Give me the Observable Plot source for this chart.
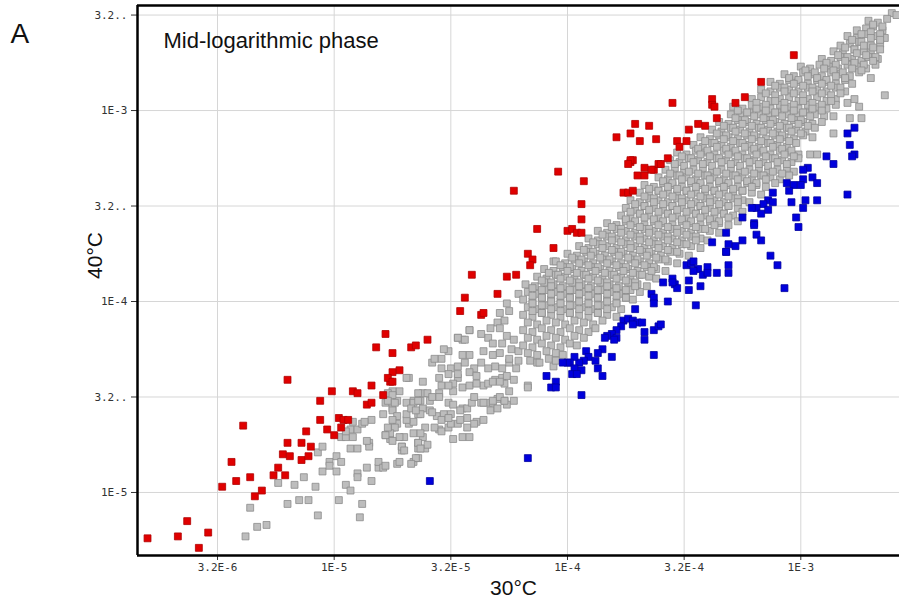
<!DOCTYPE html>
<html><head><meta charset="utf-8">
<script src="https://cdn.jsdelivr.net/npm/d3@7"></script>
<script src="https://cdn.jsdelivr.net/npm/@observablehq/plot@0.6"></script>
<style>
body{margin:0;background:#fff;}
#chart svg{display:block;}
</style></head><body><div id="chart"></div>
<script>
// Values are log10 of the expression level: [log10(30°C), log10(40°C)]
const xTickExp = [-5.5, -5, -4.5, -4, -3.5, -3];
const xTickLabels = ["3.2E-6", "1E-5", "3.2E-5", "1E-4", "3.2E-4", "1E-3"];
const yTickExp = [-5, -4.5, -4, -3.5, -3, -2.5];
const yTickLabels = ["1E-5", "3.2..", "1E-4", "3.2..", "1E-3", "3.2.."];
const xDomainExp = [-5.843, -2.577];
const yDomainExp = [-5.33, -2.45];

const grayLower = [
[-5.38,-5.23],[-5.33,-5.18],[-5.29,-5.17],[-5.36,-5.08],[-5.24,-4.95],[-5.20,-5.06],[-5.17,-4.96],[-5.15,-5.04],[-5.11,-5.04],[-5.13,-4.92],
[-5.08,-4.97],[-5.07,-5.12],[-5.05,-4.89],[-5.07,-4.79],[-5.05,-4.76],[-5.02,-4.84],[-5.02,-4.86],[-4.99,-4.81],[-4.97,-4.84],[-4.99,-4.89],
[-4.98,-5.04],[-4.95,-4.96],[-4.93,-4.99],[-4.93,-4.77],[-4.90,-4.77],[-4.90,-4.90],[-4.90,-4.92],[-4.88,-5.06],[-4.89,-5.13],[-4.86,-4.87],
[-4.84,-4.94],[-4.81,-4.87],[-4.81,-4.84],[-4.79,-4.87],[-4.85,-4.74],[-4.85,-4.76],[-4.78,-4.70],[-4.76,-4.72],[-4.75,-4.66],[-4.73,-4.85],
[-4.71,-4.76],[-4.71,-4.78],[-4.70,-4.71],[-4.66,-4.84],[-4.64,-4.82],[-4.64,-4.74],[-4.64,-4.77],[-4.61,-4.77],[-4.68,-4.64],[-4.66,-4.63],
[-4.61,-4.66],[-4.93,-4.67],[-4.90,-4.67],[-4.88,-4.64],[-4.92,-4.63],[-4.97,-4.71],[-4.95,-4.71],[-4.55,-4.67],[-4.79,-4.59],[-4.78,-4.53],
[-4.75,-4.56],[-4.73,-4.52],[-4.72,-4.47],[-4.75,-4.47],[-4.77,-4.48],[-4.69,-4.53],[-4.66,-4.52],[-4.63,-4.52],[-4.62,-4.48],[-4.64,-4.48],
[-4.69,-4.62],[-4.69,-4.59],[-4.64,-4.59],[-4.73,-4.64],[-4.66,-4.69],[-4.62,-4.71],[-4.60,-4.75],[-4.84,-4.62],[-4.87,-4.63],[-4.95,-4.68],
[-4.86,-4.73],[-4.92,-4.71]
];
const grayMiddle = [
[-4.58,-4.32],[-4.50,-4.35],[-4.47,-4.34],[-4.44,-4.32],[-4.40,-4.35],[-4.37,-4.32],[-4.34,-4.35],[-4.31,-4.34],[-4.28,-4.35],[-4.25,-4.32],
[-4.22,-4.35],[-4.13,-4.32],[-4.06,-4.34],[-4.68,-4.40],[-4.62,-4.42],[-4.55,-4.40],[-4.51,-4.38],[-4.47,-4.40],[-4.49,-4.43],[-4.54,-4.44],
[-4.55,-4.48],[-4.49,-4.47],[-4.42,-4.37],[-4.39,-4.39],[-4.36,-4.44],[-4.34,-4.43],[-4.31,-4.41],[-4.28,-4.40],[-4.26,-4.39],[-4.27,-4.43],
[-4.25,-4.47],[-4.17,-4.44],[-4.75,-4.49],[-4.77,-4.52],[-4.74,-4.53],[-4.75,-4.57],[-4.73,-4.60],[-4.75,-4.62],[-4.74,-4.66],[-4.76,-4.69],
[-4.78,-4.70],[-4.77,-4.66],[-4.72,-4.71],[-4.71,-4.76],[-4.70,-4.78],[-4.75,-4.73],[-4.66,-4.53],[-4.64,-4.52],[-4.60,-4.48],[-4.62,-4.56],
[-4.59,-4.57],[-4.56,-4.60],[-4.53,-4.59],[-4.50,-4.59],[-4.54,-4.62],[-4.57,-4.66],[-4.54,-4.68],[-4.51,-4.66],[-4.50,-4.64],[-4.47,-4.64],
[-4.51,-4.53],[-4.59,-4.52],[-4.63,-4.59],[-4.63,-4.69],[-4.64,-4.74],[-4.63,-4.77],[-4.45,-4.56],[-4.43,-4.56],[-4.41,-4.53],[-4.40,-4.50],
[-4.37,-4.53],[-4.34,-4.53],[-4.32,-4.53],[-4.30,-4.51],[-4.27,-4.52],[-4.43,-4.61],[-4.39,-4.63],[-4.49,-4.72],[-4.45,-4.71],[-4.42,-4.71],
[-4.65,-4.82],[-4.72,-4.84],[-4.78,-4.86],[-4.67,-4.85],
[-4.21,-3.96],[-4.26,-4.01],[-4.25,-4.05],[-4.29,-4.06],[-4.27,-4.10],[-4.30,-4.11],[-4.33,-4.14],[-4.29,-4.14],[-4.34,-4.19],[-4.37,-4.17],
[-4.42,-4.15],[-4.47,-4.19],[-4.45,-4.20],[-4.26,-4.18],[-4.23,-4.20],[-4.24,-4.25],[-4.28,-4.22],[-4.32,-4.22],[-4.29,-4.27],[-4.25,-4.30],
[-4.21,-4.26],[-4.21,-4.31],[-4.32,-4.28],[-4.36,-4.26],[-4.42,-4.28],[-4.45,-4.28],[-4.51,-4.26],[-4.54,-4.30],[-4.57,-4.30],[-4.54,-4.35],
[-4.47,-4.38],[-4.51,-4.44],[-4.45,-4.45],[-4.42,-4.44],[-4.39,-4.43],[-4.32,-4.42],[-4.29,-4.42],[-4.23,-4.41],[-4.29,-4.50],[-4.32,-4.52],
[-4.36,-4.53],[-4.46,-4.57],[-4.49,-4.54],[-4.55,-4.50],[-4.58,-4.50],[-4.67,-4.56],[-4.65,-4.57],[-4.58,-4.58],[-4.51,-4.61],[-4.46,-4.62],
[-4.43,-4.66],[-4.40,-4.64],[-4.36,-4.62],[-4.33,-4.57],[-4.30,-4.56],[-4.26,-4.54],[-4.23,-4.52],[-4.69,-4.40],[-4.47,-4.19],[-4.44,-4.20],
[-4.53,-4.25],[-4.42,-4.15],[-4.06,-3.79],[-4.17,-4.45],[-4.27,-4.52]
];
const grayDense = [
[-2.61,-2.49],[-2.59,-2.50],
[-2.71,-2.53],[-2.67,-2.54],[-2.63,-2.52],
[-2.76,-2.58],[-2.72,-2.57],[-2.69,-2.56],[-2.65,-2.58],
[-2.80,-2.61],[-2.76,-2.62],[-2.72,-2.60],[-2.68,-2.61],[-2.64,-2.62],
[-2.83,-2.66],[-2.79,-2.65],[-2.75,-2.64],[-2.70,-2.66],[-2.66,-2.65],
[-2.86,-2.69],[-2.82,-2.70],[-2.77,-2.68],[-2.73,-2.69],[-2.70,-2.70],[-2.66,-2.68],
[-2.91,-2.73],[-2.87,-2.74],[-2.83,-2.72],[-2.78,-2.73],[-2.74,-2.74],[-2.71,-2.72],[-2.67,-2.73],
[-3.00,-2.77],[-2.96,-2.78],[-2.92,-2.76],[-2.88,-2.77],[-2.84,-2.78],[-2.80,-2.76],[-2.76,-2.77],[-2.72,-2.78],[-2.68,-2.76],
[-3.07,-2.81],[-3.03,-2.82],[-2.99,-2.80],[-2.95,-2.81],[-2.91,-2.82],[-2.87,-2.80],[-2.83,-2.81],[-2.79,-2.82],[-2.75,-2.80],[-2.70,-2.83],
[-3.13,-2.85],[-3.09,-2.86],[-3.05,-2.84],[-3.01,-2.85],[-2.97,-2.86],[-2.93,-2.84],[-2.89,-2.85],[-2.85,-2.86],[-2.81,-2.84],[-2.78,-2.86],
[-3.17,-2.89],[-3.13,-2.90],[-3.09,-2.88],[-3.05,-2.89],[-3.01,-2.90],[-2.97,-2.88],[-2.93,-2.89],[-2.89,-2.90],[-2.85,-2.88],[-2.81,-2.90],
[-3.21,-2.94],[-3.17,-2.93],[-3.13,-2.95],[-3.09,-2.94],[-3.05,-2.93],[-3.01,-2.95],[-2.97,-2.94],[-2.93,-2.93],[-2.89,-2.95],[-2.85,-2.94],[-2.80,-2.96],[-2.77,-2.94],[-2.64,-2.92],
[-3.29,-2.98],[-3.25,-2.99],[-3.21,-2.97],[-3.17,-2.98],[-3.13,-2.99],[-3.09,-2.97],[-3.05,-2.98],[-3.01,-2.99],[-2.97,-2.97],[-2.93,-2.98],[-2.89,-2.99],[-2.85,-2.97],[-2.75,-2.98],
[-3.30,-3.02],[-3.26,-3.03],[-3.22,-3.01],[-3.18,-3.02],[-3.14,-3.03],[-3.10,-3.01],[-3.06,-3.02],[-3.02,-3.03],[-2.98,-3.01],[-2.94,-3.02],[-2.90,-3.03],[-2.86,-3.03],[-2.79,-3.04],[-2.74,-3.04],
[-3.35,-3.06],[-3.31,-3.07],[-3.27,-3.05],[-3.23,-3.06],[-3.19,-3.07],[-3.15,-3.05],[-3.11,-3.06],[-3.07,-3.07],[-3.03,-3.05],[-2.99,-3.06],[-2.95,-3.07],[-2.91,-3.06],
[-3.38,-3.10],[-3.34,-3.11],[-3.30,-3.09],[-3.26,-3.10],[-3.22,-3.11],[-3.18,-3.09],[-3.14,-3.10],[-3.10,-3.11],[-3.06,-3.09],[-3.02,-3.10],[-2.98,-3.11],[-2.94,-3.09],[-2.86,-3.12],
[-3.43,-3.14],[-3.39,-3.15],[-3.35,-3.13],[-3.31,-3.14],[-3.27,-3.15],[-3.23,-3.13],[-3.19,-3.14],[-3.15,-3.15],[-3.11,-3.13],[-3.07,-3.14],[-3.03,-3.15],[-2.99,-3.13],[-2.95,-3.14],
[-3.46,-3.18],[-3.42,-3.19],[-3.38,-3.17],[-3.34,-3.18],[-3.30,-3.19],[-3.26,-3.17],[-3.22,-3.18],[-3.18,-3.19],[-3.14,-3.17],[-3.10,-3.18],[-3.06,-3.19],[-3.02,-3.17],
[-3.53,-3.22],[-3.49,-3.23],[-3.45,-3.21],[-3.41,-3.22],[-3.37,-3.23],[-3.33,-3.21],[-3.29,-3.22],[-3.25,-3.23],[-3.21,-3.21],[-3.17,-3.22],[-3.13,-3.23],[-3.09,-3.21],[-3.05,-3.22],[-3.01,-3.23],[-2.96,-3.23],[-2.93,-3.23],
[-3.56,-3.26],[-3.52,-3.27],[-3.48,-3.25],[-3.44,-3.26],[-3.40,-3.27],[-3.36,-3.25],[-3.32,-3.26],[-3.28,-3.27],[-3.24,-3.25],[-3.20,-3.26],[-3.16,-3.27],[-3.12,-3.25],[-3.08,-3.26],[-3.04,-3.27],[-3.01,-3.25],
[-3.58,-3.31],[-3.54,-3.30],[-3.50,-3.32],[-3.46,-3.31],[-3.42,-3.30],[-3.38,-3.32],[-3.34,-3.31],[-3.30,-3.30],[-3.26,-3.32],[-3.22,-3.31],[-3.18,-3.30],[-3.14,-3.32],[-3.10,-3.31],[-3.06,-3.30],[-3.03,-3.32],
[-3.61,-3.35],[-3.57,-3.36],[-3.53,-3.34],[-3.49,-3.35],[-3.45,-3.36],[-3.41,-3.34],[-3.37,-3.35],[-3.33,-3.36],[-3.29,-3.34],[-3.25,-3.35],[-3.21,-3.36],[-3.17,-3.34],[-3.13,-3.35],[-3.09,-3.36],[-3.05,-3.34],
[-3.67,-3.39],[-3.63,-3.40],[-3.59,-3.38],[-3.55,-3.39],[-3.51,-3.40],[-3.47,-3.38],[-3.43,-3.39],[-3.39,-3.40],[-3.35,-3.38],[-3.31,-3.39],[-3.27,-3.40],[-3.23,-3.38],[-3.19,-3.39],[-3.15,-3.40],[-3.11,-3.38],
[-3.69,-3.43],[-3.65,-3.44],[-3.61,-3.42],[-3.57,-3.43],[-3.53,-3.44],[-3.49,-3.42],[-3.45,-3.43],[-3.41,-3.44],[-3.37,-3.42],[-3.33,-3.43],[-3.29,-3.44],[-3.25,-3.42],[-3.21,-3.43],[-3.17,-3.44],
[-3.73,-3.47],[-3.69,-3.48],[-3.65,-3.46],[-3.61,-3.47],[-3.57,-3.48],[-3.53,-3.46],[-3.49,-3.47],[-3.45,-3.48],[-3.41,-3.46],[-3.37,-3.47],[-3.33,-3.48],[-3.29,-3.46],[-3.25,-3.47],[-3.22,-3.48],
[-3.75,-3.51],[-3.71,-3.52],[-3.67,-3.50],[-3.63,-3.51],[-3.59,-3.52],[-3.55,-3.50],[-3.51,-3.51],[-3.47,-3.52],[-3.43,-3.50],[-3.39,-3.51],[-3.35,-3.52],[-3.31,-3.50],[-3.27,-3.51],[-3.25,-3.53],
[-3.77,-3.55],[-3.73,-3.56],[-3.69,-3.54],[-3.65,-3.55],[-3.61,-3.56],[-3.57,-3.54],[-3.53,-3.55],[-3.49,-3.56],[-3.45,-3.54],[-3.41,-3.55],[-3.37,-3.56],[-3.33,-3.54],[-3.29,-3.55],
[-3.83,-3.59],[-3.79,-3.60],[-3.75,-3.58],[-3.71,-3.59],[-3.67,-3.60],[-3.63,-3.58],[-3.59,-3.59],[-3.55,-3.60],[-3.51,-3.58],[-3.47,-3.59],[-3.43,-3.60],[-3.39,-3.58],[-3.35,-3.59],[-3.31,-3.60],[-3.27,-3.58],
[-3.87,-3.63],[-3.83,-3.64],[-3.79,-3.62],[-3.75,-3.63],[-3.71,-3.64],[-3.67,-3.62],[-3.63,-3.63],[-3.59,-3.64],[-3.55,-3.62],[-3.51,-3.63],[-3.47,-3.64],[-3.43,-3.62],[-3.39,-3.63],[-3.35,-3.64],
[-3.91,-3.67],[-3.87,-3.68],[-3.83,-3.66],[-3.79,-3.67],[-3.75,-3.68],[-3.71,-3.66],[-3.67,-3.67],[-3.63,-3.68],[-3.59,-3.66],[-3.55,-3.67],[-3.51,-3.68],[-3.47,-3.66],[-3.43,-3.67],[-3.40,-3.68],
[-3.95,-3.71],[-3.91,-3.72],[-3.87,-3.70],[-3.83,-3.71],[-3.79,-3.72],[-3.75,-3.70],[-3.71,-3.71],[-3.67,-3.72],[-3.63,-3.70],[-3.59,-3.71],[-3.55,-3.72],[-3.51,-3.70],[-3.47,-3.71],[-3.43,-3.72],
[-4.00,-3.75],[-3.96,-3.76],[-3.92,-3.74],[-3.88,-3.75],[-3.84,-3.76],[-3.80,-3.74],[-3.76,-3.75],[-3.72,-3.76],[-3.68,-3.74],[-3.64,-3.75],[-3.60,-3.76],[-3.56,-3.74],[-3.52,-3.75],[-3.48,-3.76],
[-4.05,-3.79],[-4.01,-3.80],[-3.97,-3.78],[-3.93,-3.79],[-3.89,-3.80],[-3.85,-3.78],[-3.81,-3.79],[-3.77,-3.80],[-3.73,-3.78],[-3.69,-3.79],[-3.65,-3.80],[-3.61,-3.78],[-3.57,-3.79],[-3.53,-3.80],
[-4.10,-3.83],[-4.06,-3.84],[-4.02,-3.82],[-3.98,-3.83],[-3.94,-3.84],[-3.90,-3.82],[-3.86,-3.83],[-3.82,-3.84],[-3.78,-3.82],[-3.74,-3.83],[-3.70,-3.84],[-3.66,-3.82],[-3.62,-3.83],[-3.58,-3.84],
[-4.13,-3.87],[-4.09,-3.88],[-4.05,-3.86],[-4.01,-3.87],[-3.97,-3.88],[-3.93,-3.86],[-3.89,-3.87],[-3.85,-3.88],[-3.81,-3.86],[-3.77,-3.87],[-3.73,-3.88],[-3.69,-3.86],[-3.65,-3.87],[-3.62,-3.88],
[-4.18,-3.91],[-4.14,-3.92],[-4.10,-3.90],[-4.06,-3.91],[-4.02,-3.92],[-3.98,-3.90],[-3.94,-3.91],[-3.90,-3.92],[-3.86,-3.90],[-3.82,-3.91],[-3.78,-3.92],[-3.74,-3.90],[-3.70,-3.91],[-3.66,-3.92],
[-4.17,-3.95],[-4.13,-3.96],[-4.09,-3.94],[-4.05,-3.95],[-4.01,-3.96],[-3.97,-3.94],[-3.93,-3.95],[-3.89,-3.96],[-3.85,-3.94],[-3.81,-3.95],[-3.77,-3.96],[-3.73,-3.94],[-3.69,-3.95],
[-4.19,-3.99],[-4.15,-4.00],[-4.11,-3.98],[-4.07,-3.99],[-4.03,-4.00],[-3.99,-3.98],[-3.95,-3.99],[-3.91,-4.00],[-3.87,-3.98],[-3.83,-3.99],[-3.79,-4.00],[-3.75,-3.98],[-3.72,-3.99],
[-4.17,-4.03],[-4.13,-4.04],[-4.09,-4.02],[-4.05,-4.03],[-4.01,-4.04],[-3.97,-4.02],[-3.93,-4.03],[-3.89,-4.04],[-3.85,-4.02],[-3.81,-4.03],[-3.77,-4.04],
[-4.19,-4.07],[-4.15,-4.08],[-4.11,-4.06],[-4.07,-4.07],[-4.03,-4.08],[-3.99,-4.06],[-3.95,-4.07],[-3.91,-4.08],[-3.87,-4.06],[-3.83,-4.07],[-3.79,-4.08],
[-4.17,-4.11],[-4.13,-4.12],[-4.09,-4.10],[-4.05,-4.11],[-4.01,-4.12],[-3.97,-4.10],[-3.93,-4.11],[-3.89,-4.12],[-3.85,-4.10],
[-4.19,-4.15],[-4.15,-4.16],[-4.11,-4.14],[-4.07,-4.15],[-4.03,-4.16],[-3.99,-4.14],[-3.95,-4.15],[-3.91,-4.16],[-3.88,-4.14],
[-4.17,-4.19],[-4.13,-4.20],[-4.09,-4.18],[-4.05,-4.19],[-4.01,-4.20],[-3.97,-4.18],[-3.93,-4.19],
[-4.19,-4.23],[-4.15,-4.24],[-4.11,-4.22],[-4.07,-4.23],[-4.03,-4.24],[-3.99,-4.22],[-3.96,-4.23],
[-4.17,-4.27],[-4.13,-4.28],[-4.09,-4.26],[-4.05,-4.27],[-4.02,-4.28],
[-4.16,-4.31],[-4.12,-4.32],[-4.08,-4.30],[-4.05,-4.31]
];
// the solid core of the cloud, read between the rows above
const grayCore = [
[-2.69,-2.55],[-2.65,-2.56],
[-2.74,-2.60],[-2.70,-2.59],[-2.66,-2.60],
[-2.78,-2.63],[-2.74,-2.64],[-2.70,-2.62],[-2.66,-2.63],
[-2.81,-2.67],[-2.77,-2.68],[-2.73,-2.66],[-2.69,-2.67],
[-2.84,-2.71],[-2.80,-2.72],[-2.76,-2.70],[-2.72,-2.71],[-2.68,-2.72],
[-2.89,-2.75],[-2.85,-2.76],[-2.81,-2.74],[-2.77,-2.75],[-2.73,-2.76],[-2.69,-2.74],
[-2.98,-2.79],[-2.94,-2.80],[-2.90,-2.78],[-2.86,-2.79],[-2.82,-2.80],[-2.78,-2.78],[-2.74,-2.79],
[-3.05,-2.83],[-3.01,-2.84],[-2.97,-2.82],[-2.93,-2.83],[-2.89,-2.84],[-2.85,-2.82],[-2.81,-2.83],
[-3.11,-2.87],[-3.07,-2.88],[-3.03,-2.86],[-2.99,-2.87],[-2.95,-2.88],[-2.91,-2.86],[-2.87,-2.87],[-2.83,-2.88],
[-3.15,-2.91],[-3.11,-2.92],[-3.07,-2.90],[-3.03,-2.91],[-2.99,-2.92],[-2.95,-2.90],[-2.91,-2.91],[-2.87,-2.92],[-2.83,-2.91],
[-3.19,-2.96],[-3.15,-2.97],[-3.11,-2.95],[-3.07,-2.96],[-3.03,-2.97],[-2.99,-2.95],[-2.95,-2.96],[-2.91,-2.97],[-2.87,-2.95],
[-3.27,-3.00],[-3.23,-3.01],[-3.19,-2.99],[-3.15,-3.00],[-3.11,-3.01],[-3.07,-2.99],[-3.03,-3.00],[-2.99,-3.01],[-2.95,-2.99],[-2.91,-3.00],
[-3.28,-3.04],[-3.24,-3.05],[-3.20,-3.03],[-3.16,-3.04],[-3.12,-3.05],[-3.08,-3.03],[-3.04,-3.04],[-3.00,-3.05],[-2.96,-3.03],
[-3.33,-3.08],[-3.29,-3.09],[-3.25,-3.07],[-3.21,-3.08],[-3.17,-3.09],[-3.13,-3.07],[-3.09,-3.08],[-3.05,-3.09],[-3.01,-3.07],[-2.97,-3.08],
[-3.36,-3.12],[-3.32,-3.13],[-3.28,-3.11],[-3.24,-3.12],[-3.20,-3.13],[-3.16,-3.11],[-3.12,-3.12],[-3.08,-3.13],[-3.04,-3.11],[-3.00,-3.12],
[-3.41,-3.16],[-3.37,-3.17],[-3.33,-3.15],[-3.29,-3.16],[-3.25,-3.17],[-3.21,-3.15],[-3.17,-3.16],[-3.13,-3.17],[-3.09,-3.15],[-3.05,-3.16],
[-3.44,-3.20],[-3.40,-3.21],[-3.36,-3.19],[-3.32,-3.20],[-3.28,-3.21],[-3.24,-3.19],[-3.20,-3.20],[-3.16,-3.21],[-3.12,-3.19],[-3.08,-3.20],[-3.04,-3.21],
[-3.51,-3.24],[-3.47,-3.25],[-3.43,-3.23],[-3.39,-3.24],[-3.35,-3.25],[-3.31,-3.23],[-3.27,-3.24],[-3.23,-3.25],[-3.19,-3.23],[-3.15,-3.24],[-3.11,-3.25],[-3.07,-3.23],[-3.03,-3.24],
[-3.54,-3.28],[-3.50,-3.29],[-3.46,-3.27],[-3.42,-3.28],[-3.38,-3.29],[-3.34,-3.27],[-3.30,-3.28],[-3.26,-3.29],[-3.22,-3.27],[-3.18,-3.28],[-3.14,-3.29],[-3.10,-3.27],[-3.06,-3.28],
[-3.56,-3.33],[-3.52,-3.34],[-3.48,-3.32],[-3.44,-3.33],[-3.40,-3.34],[-3.36,-3.32],[-3.32,-3.33],[-3.28,-3.34],[-3.24,-3.32],[-3.20,-3.33],[-3.16,-3.34],[-3.12,-3.32],[-3.08,-3.33],
[-3.59,-3.37],[-3.55,-3.38],[-3.51,-3.36],[-3.47,-3.37],[-3.43,-3.38],[-3.39,-3.36],[-3.35,-3.37],[-3.31,-3.38],[-3.27,-3.36],[-3.23,-3.37],[-3.19,-3.38],[-3.15,-3.36],
[-3.65,-3.41],[-3.61,-3.42],[-3.57,-3.40],[-3.53,-3.41],[-3.49,-3.42],[-3.45,-3.40],[-3.41,-3.41],[-3.37,-3.42],[-3.33,-3.40],[-3.29,-3.41],[-3.25,-3.42],[-3.21,-3.40],
[-3.67,-3.45],[-3.63,-3.46],[-3.59,-3.44],[-3.55,-3.45],[-3.51,-3.46],[-3.47,-3.44],[-3.43,-3.45],[-3.39,-3.46],[-3.35,-3.44],[-3.31,-3.45],[-3.27,-3.46],
[-3.71,-3.49],[-3.67,-3.50],[-3.63,-3.48],[-3.59,-3.49],[-3.55,-3.50],[-3.51,-3.48],[-3.47,-3.49],[-3.43,-3.50],[-3.39,-3.48],[-3.35,-3.49],[-3.31,-3.50],[-3.27,-3.48],
[-3.73,-3.53],[-3.69,-3.54],[-3.65,-3.52],[-3.61,-3.53],[-3.57,-3.54],[-3.53,-3.52],[-3.49,-3.53],[-3.45,-3.54],[-3.41,-3.52],[-3.37,-3.53],[-3.33,-3.54],
[-3.75,-3.57],[-3.71,-3.58],[-3.67,-3.56],[-3.63,-3.57],[-3.59,-3.58],[-3.55,-3.56],[-3.51,-3.57],[-3.47,-3.58],[-3.43,-3.56],[-3.39,-3.57],[-3.35,-3.58],[-3.31,-3.56],
[-3.81,-3.61],[-3.77,-3.62],[-3.73,-3.60],[-3.69,-3.61],[-3.65,-3.62],[-3.61,-3.60],[-3.57,-3.61],[-3.53,-3.62],[-3.49,-3.60],[-3.45,-3.61],[-3.41,-3.62],[-3.37,-3.60],
[-3.85,-3.65],[-3.81,-3.66],[-3.77,-3.64],[-3.73,-3.65],[-3.69,-3.66],[-3.65,-3.64],[-3.61,-3.65],[-3.57,-3.66],[-3.53,-3.64],[-3.49,-3.65],[-3.45,-3.66],
[-3.89,-3.69],[-3.85,-3.70],[-3.81,-3.68],[-3.77,-3.69],[-3.73,-3.70],[-3.69,-3.68],[-3.65,-3.69],[-3.61,-3.70],[-3.57,-3.68],[-3.53,-3.69],[-3.49,-3.70],[-3.45,-3.68],
[-3.93,-3.73],[-3.89,-3.74],[-3.85,-3.72],[-3.81,-3.73],[-3.77,-3.74],[-3.73,-3.72],[-3.69,-3.73],[-3.65,-3.74],[-3.61,-3.72],[-3.57,-3.73],[-3.53,-3.74],
[-3.98,-3.77],[-3.94,-3.78],[-3.90,-3.76],[-3.86,-3.77],[-3.82,-3.78],[-3.78,-3.76],[-3.74,-3.77],[-3.70,-3.78],[-3.66,-3.76],[-3.62,-3.77],[-3.58,-3.78],
[-4.03,-3.81],[-3.99,-3.82],[-3.95,-3.80],[-3.91,-3.81],[-3.87,-3.82],[-3.83,-3.80],[-3.79,-3.81],[-3.75,-3.82],[-3.71,-3.80],[-3.67,-3.81],[-3.63,-3.82],
[-4.08,-3.85],[-4.04,-3.86],[-4.00,-3.84],[-3.96,-3.85],[-3.92,-3.86],[-3.88,-3.84],[-3.84,-3.85],[-3.80,-3.86],[-3.76,-3.84],[-3.72,-3.85],[-3.68,-3.86],[-3.64,-3.84],
[-4.11,-3.89],[-4.07,-3.90],[-4.03,-3.88],[-3.99,-3.89],[-3.95,-3.90],[-3.91,-3.88],[-3.87,-3.89],[-3.83,-3.90],[-3.79,-3.88],[-3.75,-3.89],[-3.71,-3.90],
[-4.15,-3.93],[-4.11,-3.94],[-4.07,-3.92],[-4.03,-3.93],[-3.99,-3.94],[-3.95,-3.92],[-3.91,-3.93],[-3.87,-3.94],[-3.83,-3.92],[-3.79,-3.93],[-3.75,-3.94],[-3.71,-3.92],
[-4.15,-3.97],[-4.11,-3.98],[-4.07,-3.96],[-4.03,-3.97],[-3.99,-3.98],[-3.95,-3.96],[-3.91,-3.97],[-3.87,-3.98],[-3.83,-3.96],[-3.79,-3.97],[-3.75,-3.98],
[-4.15,-4.01],[-4.11,-4.02],[-4.07,-4.00],[-4.03,-4.01],[-3.99,-4.02],[-3.95,-4.00],[-3.91,-4.01],[-3.87,-4.02],[-3.83,-4.00],[-3.79,-4.01],
[-4.15,-4.05],[-4.11,-4.06],[-4.07,-4.04],[-4.03,-4.05],[-3.99,-4.06],[-3.95,-4.04],[-3.91,-4.05],[-3.87,-4.06],[-3.83,-4.04]
];
const redPts = [
[-5.80,-5.24],[-5.67,-5.23],[-5.63,-5.15],[-5.58,-5.29],[-5.54,-5.21],[-5.48,-4.97],[-5.44,-4.84],[-5.42,-4.94],[-5.39,-4.65],[-5.36,-4.92],
[-5.34,-5.02],[-5.31,-4.99],[-5.26,-4.91],[-5.24,-4.87],[-5.21,-4.91],[-5.20,-4.74],[-5.22,-4.80],[-5.19,-4.81],[-5.14,-4.74],[-5.10,-4.76],
[-5.14,-4.83],[-5.11,-4.81],[-5.12,-4.68],[-5.06,-4.62],[-5.03,-4.67],[-5.00,-4.70],[-4.98,-4.61],[-4.96,-4.62],[-4.94,-4.62],[-4.97,-4.66],
[-5.20,-4.41],[-5.06,-4.52],[-5.01,-4.47],[-4.92,-4.47],[-4.90,-4.48],[-4.84,-4.44],[-4.79,-4.49],[-4.86,-4.54],[-4.84,-4.53],[-4.76,-4.42],
[-4.78,-4.17],[-4.60,-4.20],[-4.82,-4.24],[-4.67,-4.24],[-4.65,-4.23],[-4.75,-4.27],[-4.72,-4.36],[-4.75,-4.37],[-4.77,-4.40],[-4.75,-4.42],
[-4.41,-3.86],[-4.26,-3.87],[-4.22,-3.86],[-4.30,-3.96],[-4.44,-3.98],[-4.46,-4.05],[-4.37,-4.07],[-4.04,-3.32],[-4.23,-3.42],[-3.93,-3.37],
[-3.94,-3.49],[-3.94,-3.57],[-4.13,-3.62],[-4.00,-3.63],[-3.98,-3.62],[-3.96,-3.64],[-3.94,-3.64],[-4.06,-3.72],[-4.17,-3.75],[-4.15,-3.78],
[-4.16,-3.81],[-4.36,-4.06],[-3.73,-3.27],[-3.72,-3.26],[-3.67,-3.30],[-3.70,-3.34],[-3.67,-3.34],[-3.63,-3.31],[-3.61,-3.28],[-3.76,-3.43],
[-3.74,-3.43],[-3.72,-3.42],[-3.55,-2.96],[-3.38,-2.94],[-3.38,-2.97],[-3.37,-2.98],[-3.36,-3.04],[-3.28,-2.96],[-3.24,-2.93],[-3.17,-2.85],
[-3.71,-3.07],[-3.65,-3.08],[-3.73,-3.12],[-3.79,-3.14],[-3.69,-3.16],[-3.62,-3.15],[-3.44,-3.07],[-3.41,-3.08],[-3.48,-3.10],[-3.53,-3.16],
[-3.49,-3.16],[-3.52,-3.19],[-3.57,-3.25],[-3.60,-3.28],[-3.73,-3.26],[-3.74,-3.28],[-3.64,-3.31],[-3.03,-2.71]
];
const bluePts = [
[-3.32,-3.74],[-3.13,-3.76],[-3.10,-3.81],[-3.07,-3.93],[-3.49,-3.81],[-3.47,-3.80],[-3.46,-3.79],[-3.44,-3.83],[-3.46,-3.84],[-3.42,-3.86],
[-3.40,-3.82],[-3.40,-3.85],[-3.36,-3.85],[-3.31,-3.81],[-3.31,-3.85],[-3.59,-3.90],[-3.55,-3.88],[-3.54,-3.91],[-3.53,-3.93],[-3.55,-3.90],
[-3.48,-3.89],[-3.48,-3.94],[-3.43,-3.92],[-3.45,-4.02],[-3.64,-3.96],[-3.63,-3.98],[-3.63,-4.01],[-3.57,-4.00],[-3.71,-4.04],[-3.76,-4.10],
[-3.74,-4.09],[-3.72,-4.10],[-3.70,-4.11],[-3.68,-4.11],[-3.72,-4.12],[-3.77,-4.13],[-3.79,-4.15],[-3.81,-4.17],[-3.79,-4.19],[-3.80,-4.20],
[-3.83,-4.18],[-3.84,-4.19],[-3.67,-4.16],[-3.67,-4.20],[-3.63,-4.15],[-3.61,-4.13],[-3.60,-4.12],[-3.63,-4.28],[-3.85,-4.25],[-3.87,-4.27],
[-3.92,-4.26],[-3.91,-4.29],[-3.93,-4.31],[-3.95,-4.32],[-3.97,-4.29],[-3.99,-4.32],[-4.00,-4.32],[-3.97,-4.35],[-3.94,-4.36],[-3.98,-4.38],
[-3.96,-4.38],[-4.02,-4.32],[-3.88,-4.31],[-3.87,-4.35],[-3.81,-4.29],[-3.85,-4.39],[-4.09,-4.39],[-4.05,-4.42],[-4.07,-4.45],[-4.05,-4.45],
[-3.94,-4.49],[-2.77,-3.09],[-2.80,-3.12],[-2.79,-3.18],[-2.77,-3.23],[-2.78,-3.24],[-2.89,-3.24],[-2.86,-3.28],[-2.97,-3.30],[-2.99,-3.31],
[-2.95,-3.35],[-2.93,-3.38],[-2.99,-3.36],[-3.03,-3.39],[-3.05,-3.42],[-3.00,-3.39],[-3.06,-3.38],[-2.80,-3.44],[-2.93,-3.47],[-3.12,-3.43],
[-3.14,-3.47],[-3.16,-3.49],[-3.19,-3.51],[-3.21,-3.51],[-3.17,-3.54],[-3.14,-3.52],[-3.20,-3.59],[-3.12,-3.48],[-3.04,-3.48],[-2.98,-3.47],
[-2.99,-3.51],[-3.02,-3.56],[-3.01,-3.61],[-3.25,-3.56],[-3.20,-3.60],[-3.19,-3.65],[-3.38,-3.69],[-3.31,-3.70],[-3.28,-3.71],[-3.32,-3.74],
[-3.32,-3.64],[-3.17,-3.68],[-3.25,-3.68],[-4.17,-4.82],[-4.59,-4.94]
];

const toRow = p => ({x: 10 ** p[0], y: 10 ** p[1]});
const gray = [...grayLower, ...grayMiddle, ...grayDense, ...grayCore].map(toRow);
const red = redPts.map(toRow);
const blue = bluePts.map(toRow);

const xTicks = xTickExp.map(e => 10 ** e);
const yTicks = yTickExp.map(e => 10 ** e);
const lab = (exps, labels) => d => {
  const l = Math.log10(d);
  const i = exps.findIndex(e => Math.abs(e - l) < 1e-6);
  return i < 0 ? "" : labels[i];
};
const xDom = xDomainExp.map(e => 10 ** e);
const yDom = yDomainExp.map(e => 10 ** e);
const sans = "'Liberation Sans', Arial, Helvetica, sans-serif";

const chart = Plot.plot({
  width: 899, height: 604,
  marginLeft: 137, marginRight: 0, marginTop: 5, marginBottom: 49,
  style: {fontFamily: "'DejaVu Sans Mono', monospace", fontSize: "11px", color: "#333", background: "#fff", overflow: "visible"},
  x: {type: "log", domain: xDom},
  y: {type: "log", domain: yDom},
  marks: [
    Plot.gridX({ticks: xTicks, stroke: "#d6d6d6", strokeOpacity: 1}),
    Plot.gridY({ticks: yTicks, stroke: "#d6d6d6", strokeOpacity: 1}),
    Plot.dot(gray, {x: "x", y: "y", symbol: "square", r: 3.9, fill: "#bdbdbd", stroke: "#8c8c8c", strokeWidth: 0.8}),
    Plot.dot(red, {x: "x", y: "y", symbol: "square", r: 3.9, fill: "#e00000", stroke: "#b00000", strokeWidth: 0.8}),
    Plot.dot(blue, {x: "x", y: "y", symbol: "square", r: 3.9, fill: "#0000dc", stroke: "#0000a0", strokeWidth: 0.8}),
    Plot.axisX({ticks: xTicks, tickFormat: lab(xTickExp, xTickLabels), tickSize: 5, tickPadding: 3, label: null}),
    Plot.axisY({ticks: yTicks, tickFormat: lab(yTickExp, yTickLabels), tickSize: 6, tickPadding: 4, label: null}),
    Plot.ruleX([xDom[0]], {stroke: "#000", strokeWidth: 2.5}),
    Plot.ruleY(yDom, {stroke: "#000", strokeWidth: 2.5}),
    Plot.text(["Mid-logarithmic phase"], {frameAnchor: "top-left", dx: 26, dy: 35, textAnchor: "start", lineAnchor: "middle", fontSize: 22, fontFamily: sans, fill: "#111"}),
    Plot.text(["A"], {frameAnchor: "top-left", dx: -127, dy: 29, textAnchor: "start", lineAnchor: "middle", fontSize: 28, fontFamily: sans, fill: "#111"}),
    Plot.text(["40°C"], {frameAnchor: "left", dx: -42, dy: -25, rotate: -90, textAnchor: "middle", lineAnchor: "middle", fontSize: 21, fontFamily: sans, fill: "#111"}),
    Plot.text(["30°C"], {frameAnchor: "bottom", dx: -5, dy: 33, textAnchor: "middle", lineAnchor: "middle", fontSize: 21, fontFamily: sans, fill: "#111"})
  ]
});
document.getElementById("chart").appendChild(chart);
</script>
</body></html>
